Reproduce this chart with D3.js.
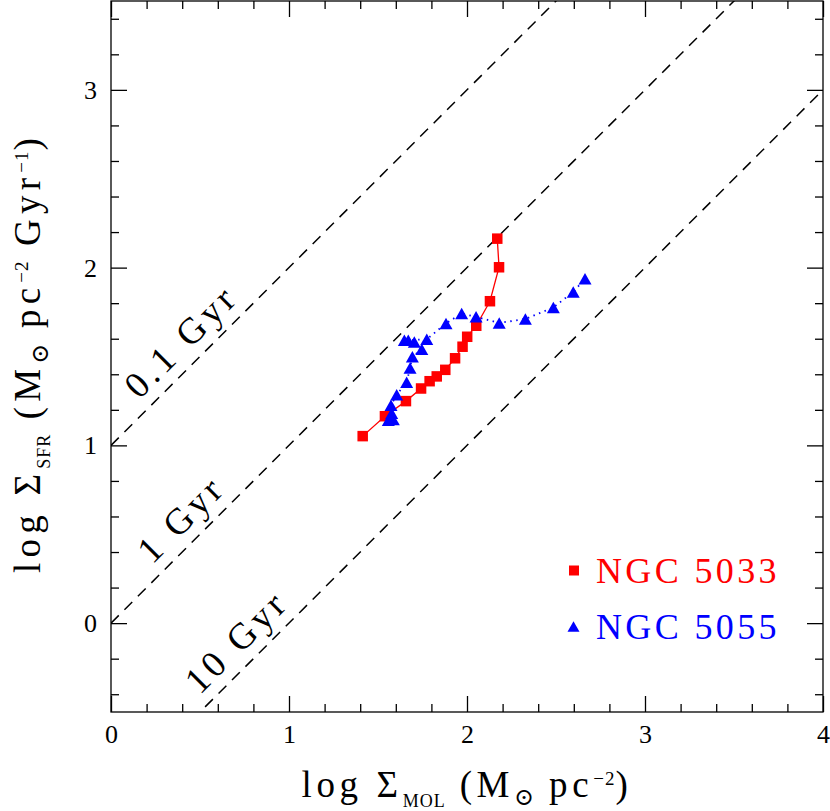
<!DOCTYPE html>
<html>
<head>
<meta charset="utf-8">
<script src="https://cdn.jsdelivr.net/npm/d3@7"></script>
<style>
  html, body { margin: 0; padding: 0; background: #fff; }
  svg { display: block; }
  text { font-family: "Liberation Serif", "DejaVu Serif", serif; }
</style>
</head>
<body>
<div id="chart"></div>
<script>
// ---- data ----
const ngc5033X = [1.414, 1.539, 1.657, 1.742, 1.790, 1.830, 1.878, 1.933, 1.975, 2.001, 2.052, 2.129, 2.180, 2.170];
const ngc5033Y = [1.052, 1.164, 1.249, 1.320, 1.361, 1.388, 1.425, 1.490, 1.555, 1.611, 1.673, 1.811, 2.002, 2.163];

const ngc5055X = [1.558, 1.586, 1.577, 1.573, 1.605, 1.661, 1.680, 1.693, 1.746, 1.704, 1.670, 1.648, 1.774, 1.882, 1.970, 2.051, 2.181, 2.328, 2.485, 2.597, 2.663];
const ngc5055Y = [1.142, 1.146, 1.181, 1.226, 1.285, 1.355, 1.436, 1.498, 1.541, 1.582, 1.592, 1.592, 1.597, 1.686, 1.742, 1.723, 1.689, 1.711, 1.776, 1.863, 1.938];

const seriesNames = ["NGC 5033", "NGC 5055"];
const depletionTimes = [0.1, 1, 10];            // Gyr
const depletionLabels = ["0.1 Gyr", "1 Gyr", "10 Gyr"];
const xTickValues = [0, 1, 2, 3, 4];
const yTickValues = [0, 1, 2, 3];
const xDomain = [0, 4];
const yDomain = [-0.5, 3.5];

// ---- layout ----
const W = 830, H = 811;
const pLeft = 111, pRight = 823, pTop = 1, pBottom = 712;

const svg = d3.select("#chart").append("svg").attr("width", W).attr("height", H);

const x = d3.scaleLinear().domain(xDomain).range([pLeft, pRight]);
const y = d3.scaleLinear().domain(yDomain).range([pBottom, pTop]);

svg.append("clipPath").attr("id", "clip")
  .append("rect").attr("x", pLeft).attr("y", pTop).attr("width", pRight - pLeft).attr("height", pBottom - pTop);

// spread the main-size characters of a text so that it spans `target` px
function fitText(sel, target) {
  const node = sel.node();
  const mains = sel.selectAll("tspan.main");
  const subs = sel.selectAll("tspan.sub");
  subs.attr("letter-spacing", "1px");
  const nat = node.getComputedTextLength();
  let n;
  if (mains.empty()) {
    n = node.textContent.length;
    sel.attr("letter-spacing", ((target - nat) / n).toFixed(2) + "px");
  } else {
    n = 0;
    mains.each(function () { n += this.textContent.length; });
    mains.attr("letter-spacing", ((target - nat) / n).toFixed(2) + "px");
  }
}

// ---- depletion-time lines ----
const lineG = svg.append("g").attr("clip-path", "url(#clip)");
depletionTimes.forEach(t => {
  const off = -Math.log10(t);
  lineG.append("line")
    .attr("x1", x(xDomain[0])).attr("y1", y(xDomain[0] + off))
    .attr("x2", x(xDomain[1])).attr("y2", y(xDomain[1] + off))
    .attr("stroke", "#000").attr("stroke-width", 1.5)
    .attr("stroke-dasharray", "11,8");
});

// labels along lines
const labelAlong = [0.49, 0.49, 0.80];
const labelTargets = [143, 106, 128];
const angle = Math.atan2(y(1) - y(0), x(1) - x(0)) * 180 / Math.PI;
depletionTimes.forEach((t, i) => {
  const off = -Math.log10(t);
  const xv = labelAlong[i];
  const txt = svg.append("text")
    .attr("transform", `translate(${x(xv)},${y(xv + off)}) rotate(${angle})`)
    .attr("x", 0).attr("y", -12)
    .attr("text-anchor", "middle")
    .attr("font-size", 37)
    .attr("fill", "#000")
    .text(depletionLabels[i]);
  fitText(txt, labelTargets[i]);
});

// ---- series ----
const red = "#ff0000", blue = "#0000ff";
const lineGen = d3.line().x(d => x(d[0])).y(d => y(d[1]));
const redPts = ngc5033X.map((v, i) => [v, ngc5033Y[i]]);
const bluePts = ngc5055X.map((v, i) => [v, ngc5055Y[i]]);

svg.append("path").datum(redPts).attr("d", lineGen)
  .attr("fill", "none").attr("stroke", red).attr("stroke-width", 1.3);
svg.append("path").datum(bluePts).attr("d", lineGen)
  .attr("fill", "none").attr("stroke", blue).attr("stroke-width", 1.8)
  .attr("stroke-dasharray", "1.5,4.5");

const sq = 10.5;
svg.append("g").selectAll("rect").data(redPts).join("rect")
  .attr("x", d => x(d[0]) - sq / 2).attr("y", d => y(d[1]) - sq / 2)
  .attr("width", sq).attr("height", sq).attr("fill", red);

function tri(cx, cy, w, h) {
  return `M${cx},${cy - h / 2}L${cx + w / 2},${cy + h / 2}L${cx - w / 2},${cy + h / 2}Z`;
}
svg.append("g").selectAll("path").data(bluePts).join("path")
  .attr("d", d => tri(x(d[0]), y(d[1]), 13, 11.5)).attr("fill", blue);

// ---- frame and ticks ----
svg.append("rect").attr("x", pLeft).attr("y", pTop).attr("width", pRight - pLeft).attr("height", pBottom - pTop)
  .attr("fill", "none").attr("stroke", "#000").attr("stroke-width", 1.3);

const majorTickLen = 16, minorTickLen = 8;
const minorXvals = d3.range(0, 21).map(i => i / 5).filter(v => Math.abs(v - Math.round(v)) > 1e-6);
const minorYvals = d3.range(-2, 18).map(i => i / 5).filter(v => Math.abs(v - Math.round(v)) > 1e-6);

function tickAxis(axisFn, scale, vals, len, transform, labels) {
  const a = axisFn(scale).tickValues(vals).tickSizeInner(-len).tickSizeOuter(0);
  if (!labels) a.tickFormat("");
  else a.tickFormat(d3.format("d")).tickPadding(0);
  const g = svg.append("g").attr("transform", transform).call(a);
  g.select(".domain").remove();
  g.selectAll(".tick line").attr("stroke", "#000").attr("stroke-width", 1.3);
  return g;
}
// bottom
const gx = tickAxis(d3.axisBottom, x, xTickValues, majorTickLen, `translate(0,${pBottom})`, true);
gx.selectAll(".tick text").attr("font-size", 26).attr("font-family", "Liberation Serif").attr("fill", "#000")
  .attr("dy", null).attr("y", 31);
tickAxis(d3.axisBottom, x, minorXvals, minorTickLen, `translate(0,${pBottom})`, false);
// top
tickAxis(d3.axisTop, x, xTickValues, majorTickLen, `translate(0,${pTop})`, false);
tickAxis(d3.axisTop, x, minorXvals, minorTickLen, `translate(0,${pTop})`, false);
// left
const gy = tickAxis(d3.axisLeft, y, yTickValues, majorTickLen, `translate(${pLeft},0)`, true);
gy.selectAll(".tick text").attr("font-size", 26).attr("font-family", "Liberation Serif").attr("fill", "#000")
  .attr("x", -14).attr("dy", "0.33em");
tickAxis(d3.axisLeft, y, minorYvals, minorTickLen, `translate(${pLeft},0)`, false);
// right
tickAxis(d3.axisRight, y, yTickValues, majorTickLen, `translate(${pRight},0)`, false);
tickAxis(d3.axisRight, y, minorYvals, minorTickLen, `translate(${pRight},0)`, false);

// ---- axis titles ----
function titleParts(t, parts) {
  parts.forEach(p => {
    const ts = t.append("tspan").attr("class", p.cls).text(p.s);
    if (p.fs) ts.attr("font-size", p.fs);
    if (p.dy) ts.attr("dy", p.dy);
  });
}
const xt = svg.append("text").attr("x", (pLeft + pRight) / 2).attr("y", 797)
  .attr("text-anchor", "middle").attr("font-size", 37).attr("fill", "#000");
titleParts(xt, [
  { s: "log Σ", cls: "main" },
  { s: "MOL", cls: "sub", fs: 18, dy: 10 },
  { s: " (M", cls: "main", dy: -10 },
  { s: "⊙", cls: "sub", fs: 24, dy: 8 },
  { s: " pc", cls: "main", dy: -8 },
  { s: "−2", cls: "sub", fs: 19, dy: -12 },
  { s: ")", cls: "main", dy: 12 }
]);
fitText(xt, 331);

const yt = svg.append("text").attr("transform", "translate(40,133) rotate(-90)")
  .attr("text-anchor", "end").attr("font-size", 37).attr("fill", "#000");
titleParts(yt, [
  { s: "log Σ", cls: "main" },
  { s: "SFR", cls: "sub", fs: 18, dy: 10 },
  { s: " (M", cls: "main", dy: -10 },
  { s: "⊙", cls: "sub", fs: 24, dy: 8 },
  { s: " pc", cls: "main", dy: -8 },
  { s: "−2", cls: "sub", fs: 19, dy: -12 },
  { s: " Gyr", cls: "main", dy: 12 },
  { s: "−1", cls: "sub", fs: 19, dy: -12 },
  { s: ")", cls: "main", dy: 12 }
]);
fitText(yt, 440);

// ---- legend ----
const legColors = [red, blue];
const legBase = [583, 639];
seriesNames.forEach((name, i) => {
  const cy = legBase[i] - 12.5;
  if (i === 0) {
    svg.append("rect").attr("x", 574 - 5).attr("y", cy - 5).attr("width", 10).attr("height", 10).attr("fill", red);
  } else {
    svg.append("path").attr("d", tri(573.5, cy, 12, 10.5)).attr("fill", blue);
  }
  const t = svg.append("text").attr("x", 596).attr("y", legBase[i])
    .attr("font-size", 36).attr("fill", legColors[i]).text(name);
  fitText(t, 184);
});
</script>
</body>
</html>
